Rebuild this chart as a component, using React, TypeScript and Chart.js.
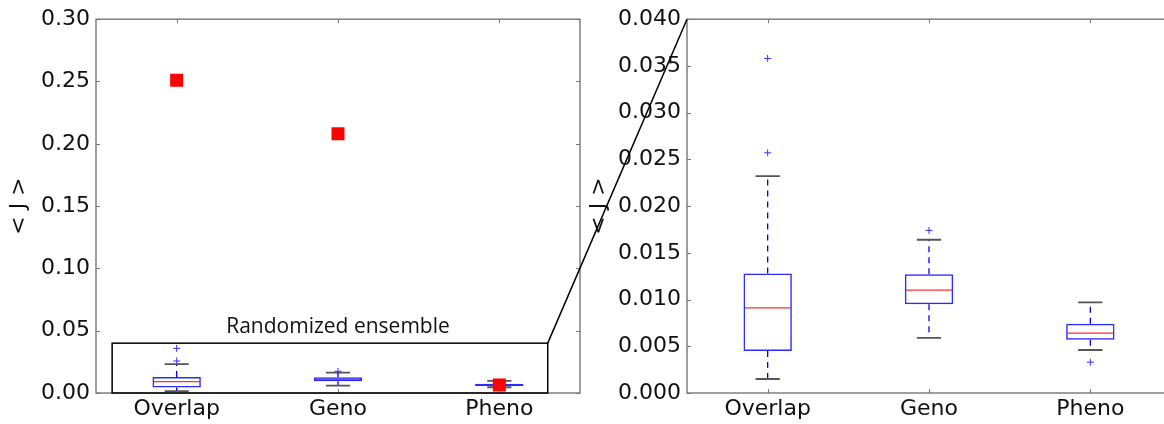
import React, { useEffect, useRef } from 'react';
import { Chart, registerables } from 'chart.js';

Chart.register(...registerables);

// ---------- data ----------
const categories = ['Overlap', 'Geno', 'Pheno'];
const whiskerLow = [0.0015, 0.0059, 0.0046];
const quartile1 = [0.0045, 0.0095, 0.0057];
const medians = [0.0091, 0.011, 0.0064];
const quartile3 = [0.0128, 0.0127, 0.0074];
const whiskerHigh = [0.0232, 0.0164, 0.0097];
const outliers = [[0.0257, 0.0358], [0.0174], [0.0033]];
const observed = [0.251, 0.208, 0.0065];

const leftYTicks = [0, 0.05, 0.1, 0.15, 0.2, 0.25, 0.3];
const rightYTicks = [0, 0.005, 0.01, 0.015, 0.02, 0.025, 0.03, 0.035, 0.04];
const insetRangeX = [0.6, 3.3];
const insetRangeY = [0, 0.04];
const insetLabel = 'Randomized ensemble';
const yTitle = '< J >';

// ---------- styling ----------
const FONT = 'DejaVu Sans';
const SPINE = '#777777';
const LEFT_OFFSET = 0;
const RIGHT_OFFSET = 540;

const boxExtrasPlugin = {
  id: 'boxExtras',
  beforeDatasetsDraw(chart: any) {
    const { ctx } = chart;
    const x = chart.scales.x;
    const y = chart.scales.y;
    const boxIndex = chart.data.datasets.findIndex((d: any) => d.type === 'bar');
    const meta = chart.getDatasetMeta(boxIndex);
    ctx.save();
    ctx.beginPath();
    ctx.rect(chart.chartArea.left, chart.chartArea.top, chart.chartArea.width, chart.chartArea.height);
    ctx.clip();
    categories.forEach((_, i) => {
      const el = meta.data[i];
      const half = el.width / 2;
      const cx = x.getPixelForValue(i + 1);
      // dashed whiskers
      ctx.strokeStyle = '#0000ff';
      ctx.lineWidth = 1.3;
      ctx.setLineDash([6, 5]);
      ctx.beginPath();
      ctx.moveTo(cx, y.getPixelForValue(quartile3[i]));
      ctx.lineTo(cx, y.getPixelForValue(whiskerHigh[i]));
      ctx.stroke();
      ctx.beginPath();
      ctx.moveTo(cx, y.getPixelForValue(quartile1[i]));
      ctx.lineTo(cx, y.getPixelForValue(whiskerLow[i]));
      ctx.stroke();
      ctx.setLineDash([]);
      // caps
      ctx.strokeStyle = '#555555';
      ctx.lineWidth = 1.8;
      [whiskerHigh[i], whiskerLow[i]].forEach((v) => {
        const py = y.getPixelForValue(v);
        ctx.beginPath();
        ctx.moveTo(cx - half / 2, py);
        ctx.lineTo(cx + half / 2, py);
        ctx.stroke();
      });
      // median
      ctx.strokeStyle = '#ff3030';
      ctx.lineWidth = 1.3;
      const my = y.getPixelForValue(medians[i]);
      ctx.beginPath();
      ctx.moveTo(cx - half + 1, my);
      ctx.lineTo(cx + half - 1, my);
      ctx.stroke();
    });
    ctx.restore();
  },
};

const framePlugin = {
  id: 'frame',
  afterDatasetsDraw(chart: any) {
    const { ctx, chartArea: a } = chart;
    const x = chart.scales.x;
    const y = chart.scales.y;
    ctx.save();
    ctx.strokeStyle = SPINE;
    ctx.lineWidth = 1.4;
    ctx.strokeRect(a.left, a.top, a.right - a.left, a.bottom - a.top);
    ctx.lineWidth = 1;
    const tl = 4;
    x.ticks.forEach((t: any) => {
      const px = Math.round(x.getPixelForValue(t.value)) + 0.5;
      ctx.beginPath();
      ctx.moveTo(px, a.bottom);
      ctx.lineTo(px, a.bottom - tl);
      ctx.moveTo(px, a.top);
      ctx.lineTo(px, a.top + tl);
      ctx.stroke();
    });
    y.ticks.forEach((t: any) => {
      const py = Math.round(y.getPixelForValue(t.value)) + 0.5;
      ctx.beginPath();
      ctx.moveTo(a.left, py);
      ctx.lineTo(a.left + tl, py);
      ctx.moveTo(a.right, py);
      ctx.lineTo(a.right - tl, py);
      ctx.stroke();
    });
    ctx.restore();
  },
};

const insetPlugin = {
  id: 'inset',
  afterDraw(chart: any) {
    const { ctx } = chart;
    const x = chart.scales.x;
    const y = chart.scales.y;
    const x0 = x.getPixelForValue(insetRangeX[0]);
    const x1 = x.getPixelForValue(insetRangeX[1]);
    const y0 = y.getPixelForValue(insetRangeY[0]);
    const y1 = y.getPixelForValue(insetRangeY[1]);
    ctx.save();
    ctx.strokeStyle = '#000000';
    ctx.lineWidth = 1.5;
    ctx.strokeRect(x0, y1, x1 - x0, y0 - y1);
    ctx.fillStyle = '#111111';
    ctx.font = '21px "Open Sans"';
    ctx.textAlign = 'center';
    ctx.textBaseline = 'alphabetic';
    ctx.fillText(insetLabel, x.getPixelForValue(2), y1 - 10);
    ctx.restore();
  },
};

function makeConnector(getLeft: () => any) {
  return {
    id: 'connector',
    afterDraw(chart: any) {
      const left = getLeft();
      if (!left) return;
      const { ctx } = chart;
      const lx = left.scales.x.getPixelForValue(insetRangeX[1]) + LEFT_OFFSET - RIGHT_OFFSET;
      const ly = left.scales.y.getPixelForValue(insetRangeY[1]);
      const rx = chart.scales.x.getPixelForValue(0.5);
      const ry = chart.scales.y.getPixelForValue(rightYTicks[rightYTicks.length - 1]);
      ctx.save();
      ctx.strokeStyle = '#000000';
      ctx.lineWidth = 1.5;
      ctx.beginPath();
      ctx.moveTo(lx, ly);
      ctx.lineTo(rx, ry);
      ctx.stroke();
      ctx.restore();
    },
  };
}

function makeConfig(opts: {
  yTicks: number[];
  decimals: number;
  showObserved: boolean;
  padLeft: number;
  padRight: number;
  yWidth: number;
  plugins: any[];
}) {
  const datasets: any[] = [];
  if (opts.showObserved) {
    datasets.push({
      type: 'scatter',
      data: categories.map((_, i) => ({ x: i + 1, y: observed[i] })),
      pointStyle: 'rect',
      radius: 9.2,
      hoverRadius: 9.2,
      backgroundColor: '#ff0000',
      borderColor: '#ff0000',
      borderWidth: 0,
      order: 0,
    });
  }
  datasets.push({
    type: 'scatter',
    data: outliers.flatMap((arr, i) => arr.map((v) => ({ x: i + 1, y: v }))),
    pointStyle: 'cross',
    radius: 3.5,
    hoverRadius: 3.5,
    borderColor: '#3333ff',
    backgroundColor: '#3333ff',
    borderWidth: 1,
    order: 1,
  });
  datasets.push({
    type: 'bar',
    data: categories.map((_, i) => ({ x: i + 1, y: [quartile1[i], quartile3[i]] })),
    backgroundColor: 'rgba(0,0,0,0)',
    borderColor: '#2a2aff',
    borderWidth: 1.5,
    borderSkipped: false,
    categoryPercentage: 1,
    barPercentage: 0.3,
    order: 2,
  });
  const yt = opts.yTicks;
  return {
    type: 'bar',
    data: { datasets },
    options: {
      animation: false,
      responsive: true,
      maintainAspectRatio: false,
      events: [],
      layout: { padding: { left: opts.padLeft, right: opts.padRight, top: 19, bottom: 0 } },
      plugins: { legend: { display: false }, tooltip: { enabled: false } },
      scales: {
        x: {
          type: 'linear',
          offset: false,
          min: 0.5,
          max: 3.5,
          grid: { display: false, drawTicks: false },
          border: { display: false },
          afterBuildTicks: (s: any) => {
            s.ticks = categories.map((_, i) => ({ value: i + 1 }));
          },
          afterFit: (s: any) => {
            s.height = 31;
          },
          ticks: {
            padding: 3,
            color: '#111111',
            font: { family: FONT, size: 22 },
            autoSkip: false,
            maxRotation: 0,
            callback: (v: any) => categories[Math.round(v) - 1] ?? '',
          },
        },
        y: {
          type: 'linear',
          min: yt[0],
          max: yt[yt.length - 1],
          grid: { display: false, drawTicks: false },
          border: { display: false },
          afterBuildTicks: (s: any) => {
            s.ticks = yt.map((v) => ({ value: v }));
          },
          afterFit: (s: any) => {
            s.width = opts.yWidth;
          },
          title: {
            display: true,
            text: yTitle,
            color: '#111111',
            font: { family: FONT, size: 22 },
            padding: 0,
          },
          ticks: {
            padding: 6,
            color: '#111111',
            font: { family: FONT, size: 22 },
            autoSkip: false,
            callback: (v: any) => Number(v).toFixed(opts.decimals),
          },
        },
      },
    },
    plugins: [boxExtrasPlugin, framePlugin, ...opts.plugins],
  };
}

export default function App() {
  const leftRef = useRef<HTMLCanvasElement | null>(null);
  const rightRef = useRef<HTMLCanvasElement | null>(null);

  useEffect(() => {
    let leftChart: any = null;
    leftChart = new Chart(
      leftRef.current as any,
      makeConfig({
        yTicks: leftYTicks,
        decimals: 2,
        showObserved: true,
        padLeft: 6,
        padRight: 10,
        yWidth: 90,
        plugins: [insetPlugin],
      }) as any
    );
    const rightChart = new Chart(
      rightRef.current as any,
      makeConfig({
        yTicks: rightYTicks,
        decimals: 3,
        showObserved: false,
        padLeft: 46,
        padRight: 9,
        yWidth: 101,
        plugins: [makeConnector(() => leftChart)],
      }) as any
    );
    return () => {
      leftChart.destroy();
      rightChart.destroy();
    };
  }, []);

  return (
    <div
      style={{
        position: 'absolute',
        left: 0,
        top: 0,
        width: 1164,
        height: 424,
        overflow: 'hidden',
        background: '#ffffff',
      }}
    >
      <div style={{ position: 'absolute', left: LEFT_OFFSET, top: 0, width: 590, height: 424 }}>
        <canvas ref={leftRef} />
      </div>
      <div style={{ position: 'absolute', left: RIGHT_OFFSET, top: 0, width: 640, height: 424 }}>
        <canvas ref={rightRef} />
      </div>
    </div>
  );
}
